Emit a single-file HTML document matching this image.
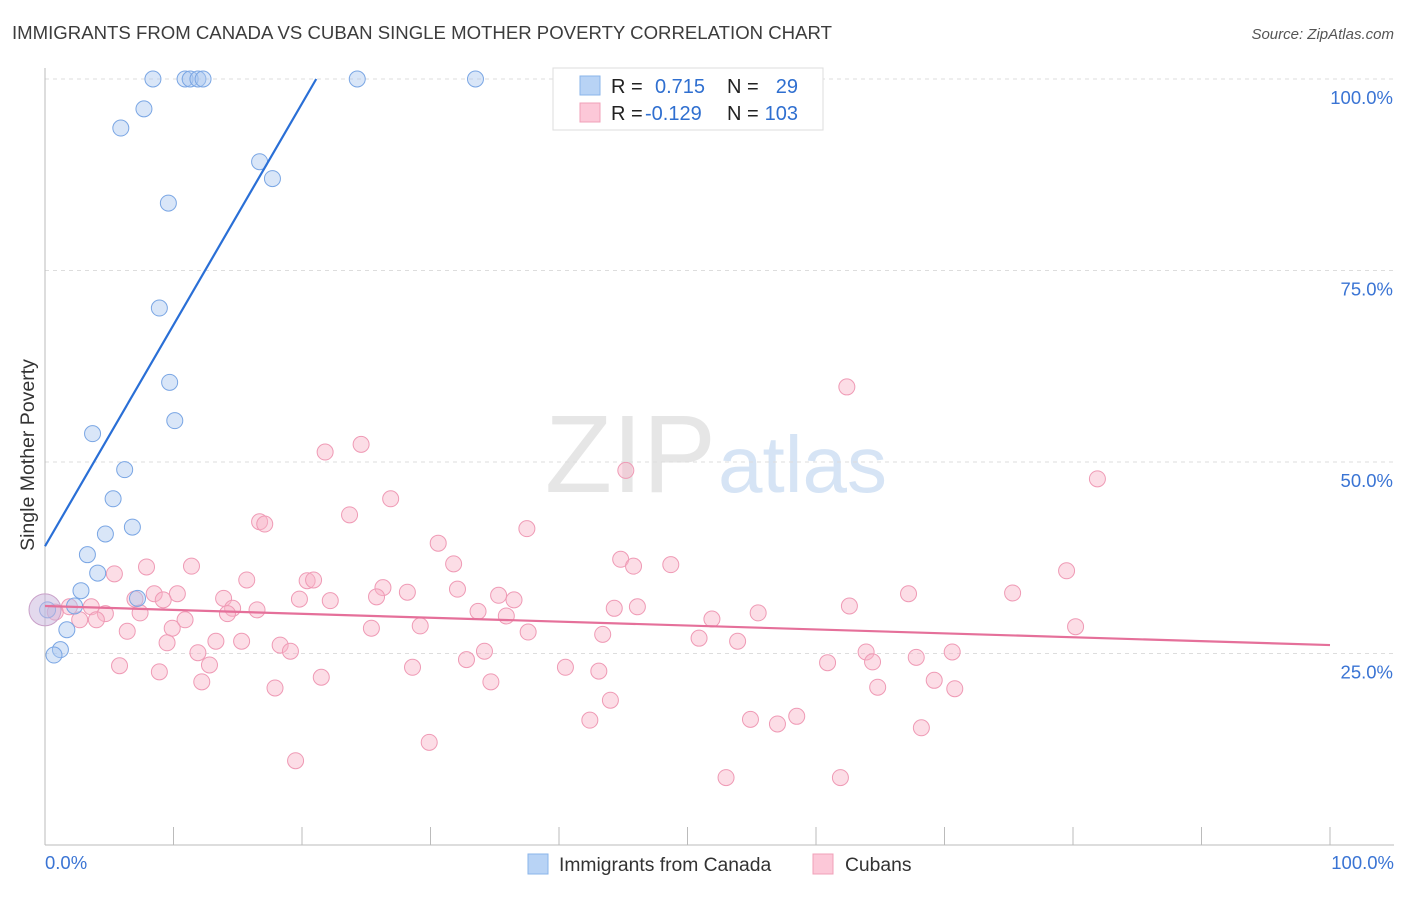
<!DOCTYPE html>
<html><head><meta charset="utf-8"><style>
body{margin:0;background:#fff;font-family:"Liberation Sans",sans-serif;}
svg text{font-family:"Liberation Sans",sans-serif;}
</style></head><body>
<svg id="chart" width="1406" height="892">
<text x="12" y="39" font-size="18.6" fill="#3c3c3c">IMMIGRANTS FROM CANADA VS CUBAN SINGLE MOTHER POVERTY CORRELATION CHART</text>
<text x="1394" y="39" font-size="15" fill="#555" text-anchor="end" font-style="italic">Source: ZipAtlas.com</text>
<text x="716" y="492" font-size="110" fill="#e6e6e6" text-anchor="end" font-family="Liberation Serif">ZIP</text>
<text x="718" y="492" font-size="80" fill="#d6e4f5">atlas</text>
<text x="34" y="455" font-size="19.5" fill="#333" text-anchor="middle" transform="rotate(-90 34 455)">Single Mother Poverty</text>
<g id="grid"></g><g id="pts"></g><g id="lines"></g>
<g>
<rect x="553" y="68" width="270" height="62" fill="#fff" stroke="#ddd"/>
<rect x="580" y="76" width="20" height="19" fill="#b8d3f5" stroke="#8ab4ea"/>
<rect x="580" y="103" width="20" height="19" fill="#fcc8d8" stroke="#f0a0b8"/>
<text x="611" y="93" font-size="20" fill="#222">R =</text><text x="655" y="93" font-size="20" fill="#2f6fd0">0.715</text>
<text x="727" y="93" font-size="20" fill="#222">N =</text><text x="798" y="93" font-size="20" fill="#2f6fd0" text-anchor="end">29</text>
<text x="611" y="120" font-size="20" fill="#222">R =</text><text x="645" y="120" font-size="20" fill="#2f6fd0">-0.129</text>
<text x="727" y="120" font-size="20" fill="#222">N =</text><text x="798" y="120" font-size="20" fill="#2f6fd0" text-anchor="end">103</text>
</g>
<g>
<rect x="528" y="854" width="20" height="20" fill="#b8d3f5" stroke="#8ab4ea"/>
<text x="559" y="871" font-size="19.3" fill="#333">Immigrants from Canada</text>
<rect x="813" y="854" width="20" height="20" fill="#fcc8d8" stroke="#f0a0b8"/>
<text x="845" y="871" font-size="19.3" fill="#333">Cubans</text>
</g>
</svg>
<script>
const yTicks=[25,50,75,100];
const yTickLabels=["25.0%","50.0%","75.0%","100.0%"];
const xTickLabels=["0.0%","100.0%"];
const canadaX=[8.4,10.9,11.3,11.9,12.3,24.3,33.5,7.7,5.9,16.7,17.7,9.6,8.9,9.7,10.1,3.7,6.2,5.3,4.7,6.8,3.3,4.1,2.8,7.2,2.3,1.7,1.2,0.7,0.2];
const canadaY=[100,100,100,100,100,100,100,96.1,93.6,89.2,87.0,83.8,70.1,60.4,55.4,53.7,49.0,45.2,40.6,41.5,37.9,35.5,33.2,32.2,31.2,28.1,25.5,24.8,30.7];
const cubaX=[62.4,24.6,21.8,45.2,81.9,26.9,23.7,37.5,16.7,17.1,30.6,44.8,45.8,48.7,31.8,7.9,11.4,5.4,15.7,20.4,20.9,26.3,79.5,28.2,32.1,35.3,36.5,8.5,10.3,13.9,19.8,22.2,25.8,67.2,75.3,7.0,9.2,3.6,4.7,7.4,1.9,0.8,2.7,4.0,14.6,16.5,14.2,33.7,35.9,44.3,46.1,55.5,62.6,51.9,29.2,25.4,10.9,6.4,9.9,37.6,43.4,80.2,50.9,53.9,9.5,13.3,15.3,18.3,19.1,11.9,34.2,32.8,63.9,64.4,67.8,70.6,60.9,40.5,43.1,28.6,12.8,5.8,8.9,21.5,34.7,12.2,17.9,64.8,69.2,70.8,44.0,42.4,54.9,57.0,58.5,68.2,29.9,19.5,53.0,61.9];
const cubaY=[59.8,52.3,51.3,48.9,47.8,45.2,43.1,41.3,42.2,41.9,39.4,37.3,36.4,36.6,36.7,36.3,36.4,35.4,34.6,34.5,34.6,33.6,35.8,33.0,33.4,32.6,32.0,32.8,32.8,32.2,32.1,31.9,32.4,32.8,32.9,32.1,32.0,31.1,30.2,30.3,31.1,30.4,29.4,29.4,30.9,30.7,30.2,30.5,29.9,30.9,31.1,30.3,31.2,29.5,28.6,28.3,29.4,27.9,28.3,27.8,27.5,28.5,27.0,26.6,26.4,26.6,26.6,26.1,25.3,25.1,25.3,24.2,25.2,23.9,24.5,25.2,23.8,23.2,22.7,23.2,23.5,23.4,22.6,21.9,21.3,21.3,20.5,20.6,21.5,20.4,18.9,16.3,16.4,15.8,16.8,15.3,13.4,11.0,8.8,8.8];
const canadaLine=[39.0,2.89]; // intercept, slope
const cubaLine=[31.2,-0.051];
const X0=45,X1=1330,Y0=845,Y100=79;
const sx=v=>X0+(X1-X0)*v/100, sy=v=>Y0+(Y100-Y0)*v/100;
const NS="http://www.w3.org/2000/svg";
function mk(tag,attrs,parent){const e=document.createElementNS(NS,tag);for(const k in attrs)e.setAttribute(k,attrs[k]);parent.appendChild(e);return e;}
const grid=document.getElementById('grid'),pts=document.getElementById('pts'),lines=document.getElementById('lines');
yTicks.forEach((t,i)=>{
 const l=mk('line',{x1:X0,x2:1394,y1:sy(t),y2:sy(t),stroke:'#ddd','stroke-dasharray':'4,4'},grid);
 
 
 const tx=mk('text',{x:1393,y:sy(t)+25,'font-size':18.5,fill:'#3a74d4','text-anchor':'end'},grid);tx.textContent=yTickLabels[i];
 
 
});
mk('line',{x1:X0,x2:X0,y1:68,y2:Y0,stroke:'#bbb'},grid);
mk('line',{x1:X0,x2:1394,y1:Y0,y2:Y0,stroke:'#bbb'},grid);
for(let i=0;i<=10;i++){mk('line',{x1:sx(i*10),x2:sx(i*10),y1:Y0,y2:Y0-18,stroke:'#bbb'},grid);}
[[0,'start',45],[100,'end',1394]].forEach((d,i)=>{const t=mk('text',{x:d[2],y:869,'font-size':18.5,fill:'#3a74d4','text-anchor':d[1]},grid);t.textContent=xTickLabels[i];
 
 });
cubaX.forEach((x,i)=>{const c=mk('circle',{cx:sx(x),cy:sy(cubaY[i]),r:8,fill:'rgba(248,180,200,0.45)',stroke:'#ef9ab5','stroke-width':1},pts);
 
 });
canadaX.forEach((x,i)=>{const c=mk('circle',{cx:sx(x),cy:sy(canadaY[i]),r:8,fill:'rgba(170,200,240,0.45)',stroke:'#7aa6e4','stroke-width':1},pts);
 
 });
const big=mk('circle',{cx:sx(0),cy:sy(30.7),r:16,fill:'rgba(200,180,220,0.5)',stroke:'#c9a0c8'},pts);


const bxEnd=(100-canadaLine[0])/canadaLine[1];
const bl=mk('line',{x1:sx(0),y1:sy(canadaLine[0]),x2:sx(bxEnd),y2:sy(100),stroke:'#2a6fd6','stroke-width':2.2},lines);


const pl=mk('line',{x1:sx(0),y1:sy(cubaLine[0]),x2:sx(100),y2:sy(cubaLine[0]+cubaLine[1]*100),stroke:'#e5709a','stroke-width':2.2},lines);


</script>
</body></html>
